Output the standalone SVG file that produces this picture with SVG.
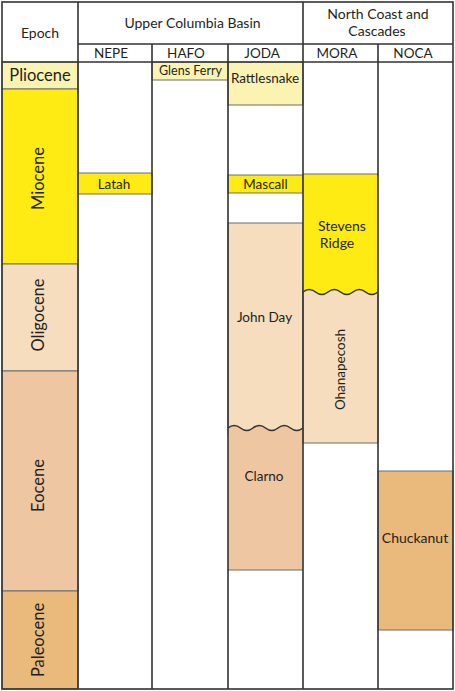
<svg xmlns="http://www.w3.org/2000/svg" width="455" height="691" viewBox="0 0 455 691">
<style>
text{font-family:Lato,"Open Sans","Liberation Sans",sans-serif;fill:#231f20;text-anchor:middle}
.h{font-size:14px}
.s{font-size:13.5px}
.e{font-size:16.5px}
.f{font-size:13.5px}
.box{stroke:#6d6d6d;stroke-width:1}
.grid{stroke:#333;stroke-width:1.6;fill:none}
.plio{fill:#faf3b2}
.mio{fill:#ffeb14}
.oli{fill:#f6ddbd}
.eoc{fill:#eec6a2}
.pal{fill:#e9ba7b}
</style>
<rect x="0" y="0" width="455" height="691" fill="#fff"/>
<g id="epochs">
<g id="pliocene"><rect class="plio box" x="2" y="62" width="76" height="27"/><text class="e" x="40" y="80.5">Pliocene</text></g>
<g id="miocene"><rect class="mio box" x="2" y="89" width="76" height="175"/><text class="e" transform="translate(44,178.5) rotate(-90)">Miocene</text></g>
<g id="oligocene"><rect class="oli box" x="2" y="264" width="76" height="107"/><text class="e" transform="translate(44,315) rotate(-90)">Oligocene</text></g>
<g id="eocene"><rect class="eoc box" x="2" y="371" width="76" height="220"/><text class="e" transform="translate(43.5,485.5) rotate(-90)">Eocene</text></g>
<g id="paleocene"><rect class="pal box" x="2" y="591" width="76" height="98"/><text class="e" transform="translate(43.5,640) rotate(-90)">Paleocene</text></g>
</g>
<g id="formations">
<g id="latah"><rect class="mio box" x="78" y="173" width="74" height="21"/><text class="f" x="114" y="189">Latah</text></g>
<g id="glens-ferry"><rect class="plio box" x="152" y="62" width="76" height="18"/><text class="f" x="190.5" y="75" style="font-size:12.5px">Glens Ferry</text></g>
<g id="rattlesnake"><rect class="plio box" x="228" y="62" width="75" height="43"/><text class="f" x="265" y="83">Rattlesnake</text></g>
<g id="mascall"><rect class="mio box" x="228" y="175" width="75" height="18"/><text class="f" x="265.5" y="189">Mascall</text></g>
<g id="john-day"><rect class="oli box" x="228" y="223" width="75" height="212"/><text class="f" x="264.5" y="322">John Day</text></g>
<g id="clarno"><path class="eoc" d="M228,428 q6.25,-5 12.5,0 t12.5,0 t12.5,0 t12.5,0 t12.5,0 t12.5,0 V570 H228 Z"/><path class="box" fill="none" d="M228,570 H303"/><text class="f" x="264" y="481">Clarno</text></g>
<g id="ohanapecosh"><rect class="oli box" x="303" y="286" width="75" height="157"/><text class="f" transform="translate(345,369.5) rotate(-90)">Ohanapecosh</text></g>
<g id="stevens-ridge"><path class="mio" d="M303,174 H378 V292 q-6.25,5 -12.5,0 t-12.5,0 t-12.5,0 t-12.5,0 t-12.5,0 t-12.5,0 Z"/><path class="box" fill="none" d="M303,174 H378"/><text class="f" x="342" y="231" style="font-size:14px">Stevens</text><text class="f" x="337" y="247.5" style="font-size:14px">Ridge</text></g>
<g id="chuckanut"><rect class="pal box" x="378" y="471" width="75" height="159"/><text class="f" x="415" y="543" style="font-size:14px">Chuckanut</text></g>
</g>
<g id="connectors">
<path class="grid" stroke-width="1.3" d="M303,292 q6.25,-5 12.5,0 t12.5,0 t12.5,0 t12.5,0 t12.5,0 t12.5,0"/>
<path class="grid" stroke-width="1.3" d="M228,428 q6.25,-5 12.5,0 t12.5,0 t12.5,0 t12.5,0 t12.5,0 t12.5,0"/>
<rect class="grid" x="2" y="2" width="451" height="687"/>
<path class="grid" d="M78,2 V689 M303,2 V689 M152,44 V689 M228,44 V689 M378,44 V689 M78,44 H453 M2,62 H453"/>
</g>
<g id="headers">
<text class="h" x="40" y="37.5">Epoch</text>
<text class="h" x="192.5" y="28">Upper Columbia Basin</text>
<text class="h" x="378" y="18.5">North Coast and</text>
<text class="h" x="377" y="36">Cascades</text>
<text class="s" x="111" y="58">NEPE</text>
<text class="s" x="186" y="58">HAFO</text>
<text class="s" x="262" y="58">JODA</text>
<text class="s" x="337" y="58">MORA</text>
<text class="s" x="413" y="58">NOCA</text>
</g>
</svg>
